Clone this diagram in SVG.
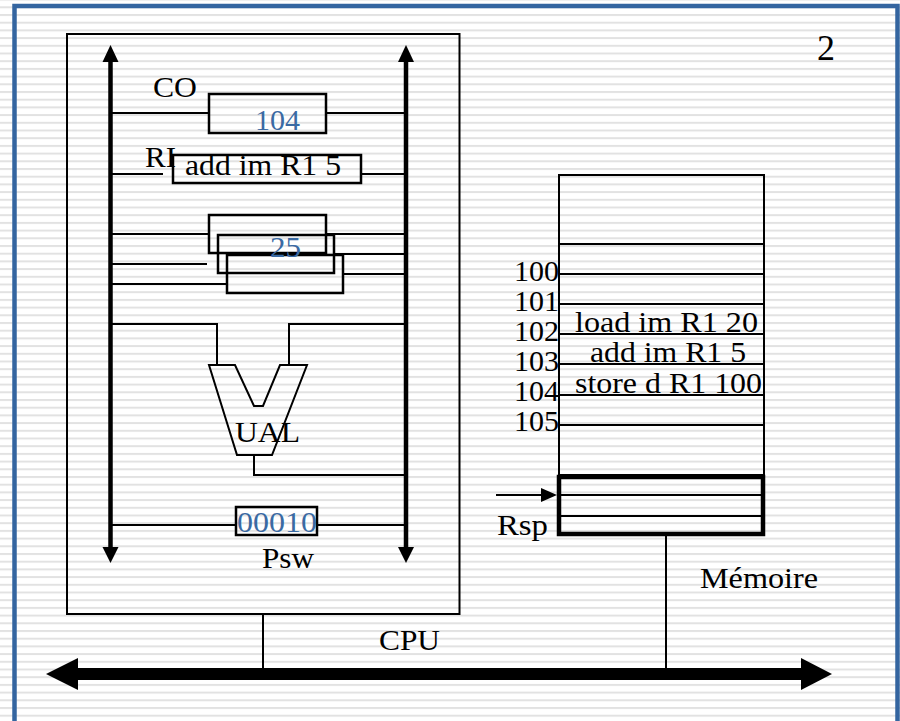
<svg xmlns="http://www.w3.org/2000/svg" width="900" height="721" viewBox="0 0 900 721">
<defs>
<pattern id="stripes" patternUnits="userSpaceOnUse" x="0" y="6.3" width="900" height="7.7">
<rect x="0" y="0" width="900" height="2" fill="#e2e2e2"/>
</pattern>
<style>
.t{font-family:"Liberation Serif","Times New Roman",serif;font-size:30px;fill:#000}
.b{fill:#3a6aa3}
.ln{stroke:#000;stroke-width:2;fill:none}
.box{stroke:#000;stroke-width:2.5;fill:none}
.bus{stroke:#000;stroke-width:4.5;fill:none}
.hd{fill:#000}
</style>
</defs>
<rect x="0" y="0" width="900" height="721" fill="#fff"/>
<rect x="0" y="0" width="900" height="721" fill="url(#stripes)"/>
<g id="frame">
<path d="M14.5 730 V6 H897.5 V730" fill="none" stroke="#3465a0" stroke-width="4.5"/>
</g>
<text class="t" x="817" y="60" style="font-size:36px">2</text>

<g id="connectors">
<line class="bus" x1="110.5" y1="60" x2="110.5" y2="549"/>
<polygon class="hd" points="110.5,45 102.5,62 118.5,62"/>
<polygon class="hd" points="110.5,563 102.5,547 118.5,547"/>
<line class="bus" x1="406" y1="60" x2="406" y2="549"/>
<polygon class="hd" points="406,45 398,62 414,62"/>
<polygon class="hd" points="406,563 398,547 414,547"/>
<line class="ln" x1="110" y1="113" x2="209" y2="113"/>
<line class="ln" x1="326" y1="113" x2="406" y2="113"/>
<line class="ln" x1="110" y1="174" x2="163" y2="174"/>
<line class="ln" x1="361" y1="174" x2="406" y2="174"/>
<line class="ln" x1="110" y1="234" x2="209" y2="234"/>
<line class="ln" x1="326" y1="234" x2="406" y2="234"/>
<line class="ln" x1="334" y1="254" x2="406" y2="254"/>
<line class="ln" x1="110" y1="264" x2="207" y2="264"/>
<line class="ln" x1="343" y1="274" x2="406" y2="274"/>
<line class="ln" x1="110" y1="284" x2="227" y2="284"/>
<polyline class="ln" points="110,324 217,324 217,365"/>
<polyline class="ln" points="406,324 289,324 289,365"/>
<polyline class="ln" points="254,455 254,475 406,475"/>
<line class="ln" x1="110" y1="525" x2="236" y2="525"/>
<line class="ln" x1="317" y1="525" x2="406" y2="525"/>
<line class="ln" x1="263" y1="615" x2="263" y2="669"/>
<line class="ln" x1="666" y1="536" x2="666" y2="669"/>
<rect x="77" y="668" width="725" height="12" fill="#000"/>
<polygon class="hd" points="46,674 78,658 78,690"/>
<polygon class="hd" points="832,674 801,658 801,690"/>
<line class="ln" x1="496" y1="495" x2="543" y2="495"/>
<polygon class="hd" points="557,495 541,488 541,502"/>
</g>

<g id="cpu">
<rect x="67" y="34" width="392.5" height="580" class="ln"/>
<text class="t" x="379" y="650" textLength="61" lengthAdjust="spacingAndGlyphs">CPU</text>
</g>

<g id="co">
<rect x="209" y="94" width="117" height="39" class="box"/>
<text class="t" x="153" y="97" textLength="44" lengthAdjust="spacingAndGlyphs">CO</text>
<text class="t b" x="255" y="130" textLength="45" lengthAdjust="spacingAndGlyphs">104</text>
</g>

<g id="ri">
<rect x="173" y="155" width="188" height="28" class="box"/>
<text class="t" x="145" y="167" textLength="31" lengthAdjust="spacingAndGlyphs">RI</text>
<text class="t" x="185" y="175" textLength="156" lengthAdjust="spacingAndGlyphs">add im R1 5</text>
</g>

<g id="registers">
<rect x="209" y="215" width="117" height="38" class="box"/>
<rect x="218" y="235" width="116" height="38" class="box"/>
<rect x="227" y="255" width="116" height="38" class="box"/>
<text class="t b" x="270" y="257" textLength="31" lengthAdjust="spacingAndGlyphs">25</text>
</g>

<g id="ual">
<polygon class="ln" points="209,365 235,365 254,406 263,406 280,365 307,365 272,455 237,455"/>
<text class="t" x="235" y="442" textLength="65" lengthAdjust="spacingAndGlyphs">UAL</text>
</g>

<g id="psw">
<rect x="236" y="507" width="81" height="28" class="box"/>
<text class="t b" x="237" y="532" textLength="80" lengthAdjust="spacingAndGlyphs">00010</text>
<text class="t" x="262" y="568" textLength="52" lengthAdjust="spacingAndGlyphs">Psw</text>
</g>

<g id="memoire">
<rect x="559" y="175" width="205" height="300" class="ln"/>
<line class="ln" x1="559" y1="244" x2="764" y2="244"/>
<line class="ln" x1="559" y1="274" x2="764" y2="274"/>
<line class="ln" x1="559" y1="304" x2="764" y2="304"/>
<line class="ln" x1="559" y1="334" x2="764" y2="334"/>
<line class="ln" x1="559" y1="364" x2="764" y2="364"/>
<line class="ln" x1="559" y1="395" x2="764" y2="395"/>
<line class="ln" x1="559" y1="425" x2="764" y2="425"/>
<text class="t" x="514" y="281" textLength="45" lengthAdjust="spacingAndGlyphs">100</text>
<text class="t" x="514" y="311" textLength="45" lengthAdjust="spacingAndGlyphs">101</text>
<text class="t" x="514" y="341" textLength="45" lengthAdjust="spacingAndGlyphs">102</text>
<text class="t" x="514" y="371" textLength="45" lengthAdjust="spacingAndGlyphs">103</text>
<text class="t" x="514" y="401" textLength="45" lengthAdjust="spacingAndGlyphs">104</text>
<text class="t" x="514" y="431" textLength="45" lengthAdjust="spacingAndGlyphs">105</text>
<text class="t" x="575" y="332" textLength="183" lengthAdjust="spacingAndGlyphs">load im R1 20</text>
<text class="t" x="590" y="362" textLength="156" lengthAdjust="spacingAndGlyphs">add im R1 5</text>
<text class="t" x="575" y="393" textLength="187" lengthAdjust="spacingAndGlyphs">store d R1 100</text>
<text class="t" x="700" y="588" textLength="118" lengthAdjust="spacingAndGlyphs">Mémoire</text>
</g>

<g id="pile">
<rect x="559" y="477" width="204" height="57" fill="none" stroke="#000" stroke-width="4.5"/>
<line class="ln" x1="559" y1="495" x2="761" y2="495"/>
<line class="ln" x1="559" y1="516" x2="761" y2="516"/>
<text class="t" x="497" y="535" textLength="51" lengthAdjust="spacingAndGlyphs">Rsp</text>
</g>
</svg>
